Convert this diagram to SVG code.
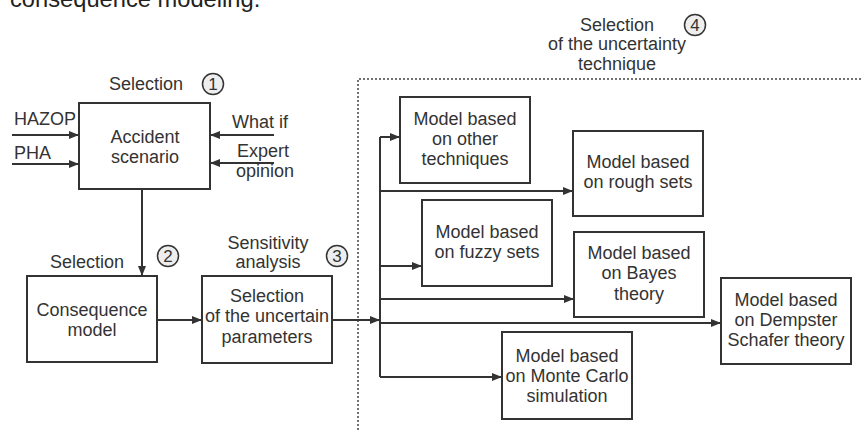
<svg xmlns="http://www.w3.org/2000/svg" width="861" height="430" viewBox="0 0 861 430">
<defs>
<style>
text{font-family:"Liberation Sans",Arial,sans-serif;font-size:18px;fill:#333}
.c{text-anchor:middle}
.box{fill:#fff;stroke:#333;stroke-width:2}
.ln{fill:none;stroke:#333;stroke-width:2}
.arr{fill:none;stroke:#333;stroke-width:2;marker-end:url(#ah)}
.dot{fill:none;stroke:#444;stroke-width:1.5;stroke-dasharray:2 2}
.num{fill:#eee;stroke:#333;stroke-width:1.5}
.nt{font-size:17px;text-anchor:middle}
</style>
<marker id="ah" markerWidth="10" markerHeight="8" refX="10" refY="4" orient="auto" markerUnits="userSpaceOnUse">
<path d="M0,0 L10,4 L0,8 z" fill="#333"/>
</marker>
</defs>
<rect width="861" height="430" fill="#fff"/>
<text x="10" y="7" style="font-size:23.7px;fill:#222">consequence modeling.</text>

<path class="dot" d="M358,430 V79 H861"/>

<g id="connectors">
<path class="arr" d="M12,135 H79"/>
<path class="arr" d="M12,164 H79"/>
<path class="arr" d="M274,135 H210"/>
<path class="arr" d="M274,163 H210"/>
<path class="arr" d="M142,189 V276"/>
<path class="arr" d="M157,320 H202"/>
<path class="arr" d="M332,320 H380"/>
<path class="ln" d="M380,137 V377"/>
<path class="arr" d="M380,137 H400"/>
<path class="arr" d="M380,191 H573"/>
<path class="arr" d="M380,266 H422"/>
<path class="arr" d="M380,299 H574"/>
<path class="arr" d="M380,323 H721"/>
<path class="arr" d="M380,377 H502"/>
</g>

<g id="labels">
<text x="14" y="125">HAZOP</text>
<text x="14" y="159">PHA</text>
<text x="232" y="128">What if</text>
<text x="237" y="157">Expert</text>
<text x="236" y="177">opinion</text>
</g>

<g id="step1">
<text class="c" x="146" y="90">Selection</text>
<circle class="num" cx="213" cy="84" r="10.5"/>
<text class="nt" x="213" y="90">1</text>
</g>
<g id="step2">
<text class="c" x="87" y="268">Selection</text>
<circle class="num" cx="168" cy="256" r="10.5"/>
<text class="nt" x="168" y="262">2</text>
</g>
<g id="step3">
<text class="c" x="268" y="249">Sensitivity</text>
<text class="c" x="268" y="268">analysis</text>
<circle class="num" cx="337" cy="256" r="10.5"/>
<text class="nt" x="337" y="262">3</text>
</g>
<g id="step4">
<text class="c" x="617" y="31">Selection</text>
<text class="c" x="617" y="50">of the uncertainty</text>
<text class="c" x="617" y="70">technique</text>
<circle class="num" cx="695" cy="25" r="10.5"/>
<text class="nt" x="695" y="31">4</text>
</g>

<g id="accident">
<rect class="box" x="79" y="103" width="131" height="86"/>
<text class="c" x="145" y="143">Accident</text>
<text class="c" x="145" y="163">scenario</text>
</g>
<g id="consequence">
<rect class="box" x="27" y="276" width="130" height="86"/>
<text class="c" x="92" y="316">Consequence</text>
<text class="c" x="92" y="336">model</text>
</g>
<g id="parameters">
<rect class="box" x="202" y="276" width="130" height="87"/>
<text class="c" x="267" y="302">Selection</text>
<text class="c" x="267" y="322">of the uncertain</text>
<text class="c" x="267" y="343">parameters</text>
</g>
<g id="other">
<rect class="box" x="400" y="97" width="130" height="86"/>
<text class="c" x="465" y="125">Model based</text>
<text class="c" x="465" y="145">on other</text>
<text class="c" x="465" y="165">techniques</text>
</g>
<g id="rough">
<rect class="box" x="573" y="131" width="130" height="85"/>
<text class="c" x="638" y="168">Model based</text>
<text class="c" x="638" y="188">on rough sets</text>
</g>
<g id="fuzzy">
<rect class="box" x="422" y="200" width="130" height="86"/>
<text class="c" x="487" y="238">Model based</text>
<text class="c" x="487" y="258">on fuzzy sets</text>
</g>
<g id="bayes">
<rect class="box" x="574" y="232" width="130" height="85"/>
<text class="c" x="639" y="259">Model based</text>
<text class="c" x="639" y="279">on Bayes</text>
<text class="c" x="639" y="300">theory</text>
</g>
<g id="dempster">
<rect class="box" x="721" y="278" width="130" height="86"/>
<text class="c" x="786" y="306">Model based</text>
<text class="c" x="786" y="326">on Dempster</text>
<text class="c" x="786" y="346">Schafer theory</text>
</g>
<g id="montecarlo">
<rect class="box" x="502" y="332" width="130" height="87"/>
<text class="c" x="567" y="362">Model based</text>
<text class="c" x="567" y="382">on Monte Carlo</text>
<text class="c" x="567" y="402">simulation</text>
</g>
</svg>
